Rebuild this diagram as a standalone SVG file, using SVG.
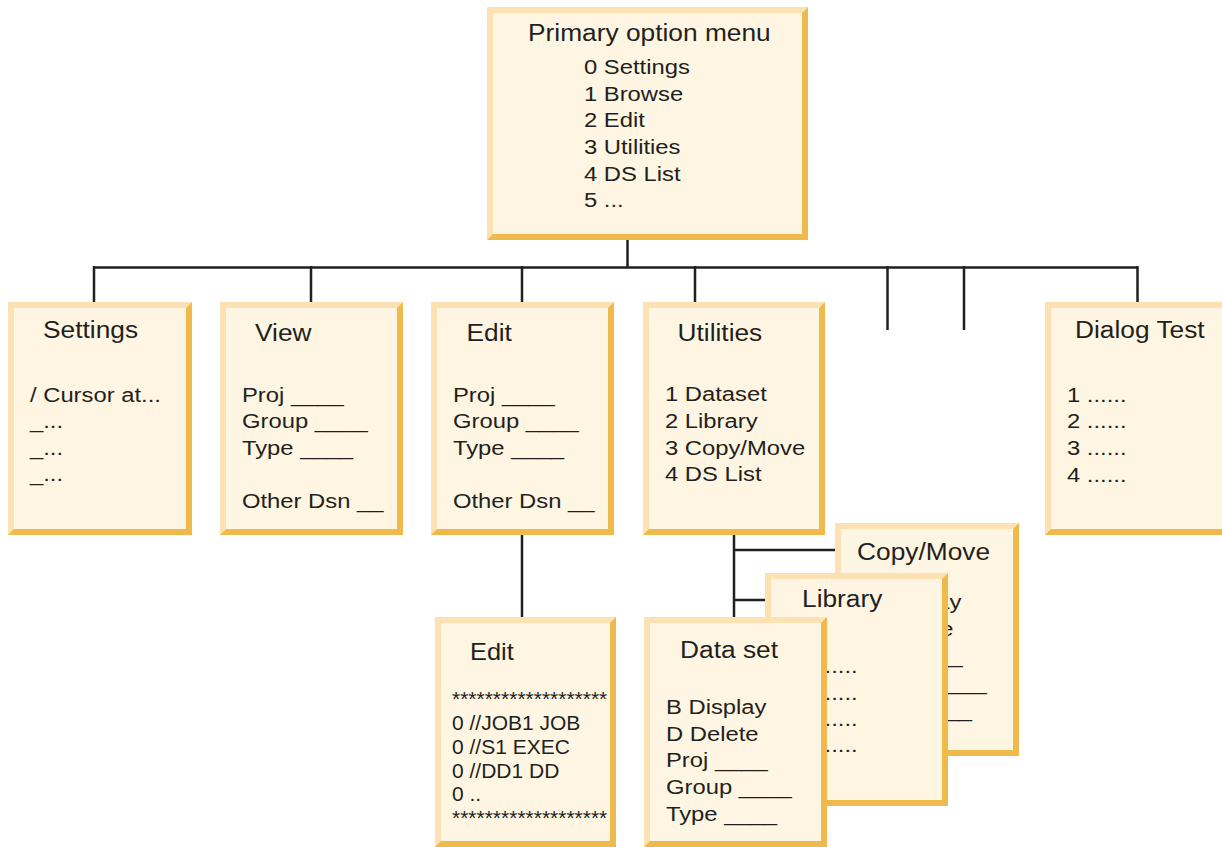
<svg xmlns="http://www.w3.org/2000/svg" width="1222" height="847" viewBox="0 0 1222 847">
<style>
.dk{fill:#EFB94B}
.lt{fill:#FCE2B3}
.fl{fill:#FEF6E2}
text{font-family:"Liberation Sans",Arial,Helvetica,sans-serif;fill:#231F20}
.t{font-size:23.5px}
.b{font-size:20px}
.s{font-size:21px}
.cn{stroke:#231F20;stroke-width:2.5;fill:none}
</style>
<rect width="1222" height="847" fill="#FFFFFF"/>
<g id="connectors" class="cn">
<path d="M627.5,240V267.5M94,267.5H1137.5M94,266V302M311,266V302M522,266V302M695,266V302M887.5,266V330M964,266V330M1137.5,266V302"/>
<path d="M522,535V617"/>
<path d="M734,535V617M734,550H835M734,600H765"/>
</g>
<g id="primary">
<rect class="dk" x="487" y="7" width="321" height="233"/>
<polygon class="lt" points="487,7 808,7 802,13 493,13 493,234 487,240"/>
<rect class="fl" x="493" y="13" width="309" height="221"/>
<g transform="translate(528 0) scale(1.12 1)"><text class="t" x="0" y="41">Primary option menu</text></g>
<g transform="translate(584 0) scale(1.19 1)"><text class="b"><tspan x="0" y="74">0 Settings</tspan><tspan x="0" y="100.7">1 Browse</tspan><tspan x="0" y="127.3">2 Edit</tspan><tspan x="0" y="154">3 Utilities</tspan><tspan x="0" y="180.7">4 DS List</tspan><tspan x="0" y="207.3">5 ...</tspan></text></g>
</g>
<g id="settings">
<rect class="dk" x="8" y="302" width="184" height="233"/>
<polygon class="lt" points="8,302 192,302 186,308 14,308 14,529 8,535"/>
<rect class="fl" x="14" y="308" width="172" height="221"/>
<g transform="translate(43 0) scale(1.12 1)"><text class="t" x="0" y="338.5">Settings</text></g>
<g transform="translate(30 0) scale(1.19 1)"><text class="b"><tspan x="0" y="402">/ Cursor at...</tspan><tspan x="0" y="428.5">_...</tspan><tspan x="0" y="455">_...</tspan><tspan x="0" y="481.5">_...</tspan></text></g>
</g>
<g id="view">
<rect class="dk" x="220" y="302" width="183" height="233"/>
<polygon class="lt" points="220,302 403,302 397,308 226,308 226,529 220,535"/>
<rect class="fl" x="226" y="308" width="171" height="221"/>
<g transform="translate(255 0) scale(1.12 1)"><text class="t" x="0" y="341">View</text></g>
<g transform="translate(242 0) scale(1.19 1)"><text class="b"><tspan x="0" y="402">Proj ____</tspan><tspan x="0" y="428.5">Group ____</tspan><tspan x="0" y="455">Type ____</tspan><tspan x="0" y="508.5">Other Dsn __</tspan></text></g>
</g>
<g id="edit">
<rect class="dk" x="431" y="302" width="183" height="233"/>
<polygon class="lt" points="431,302 614,302 608,308 437,308 437,529 431,535"/>
<rect class="fl" x="437" y="308" width="171" height="221"/>
<g transform="translate(466.5 0) scale(1.12 1)"><text class="t" x="0" y="341">Edit</text></g>
<g transform="translate(453 0) scale(1.19 1)"><text class="b"><tspan x="0" y="402">Proj ____</tspan><tspan x="0" y="428.5">Group ____</tspan><tspan x="0" y="455">Type ____</tspan><tspan x="0" y="508.5">Other Dsn __</tspan></text></g>
</g>
<g id="utilities">
<rect class="dk" x="643" y="302" width="182" height="233"/>
<polygon class="lt" points="643,302 825,302 819,308 649,308 649,529 643,535"/>
<rect class="fl" x="649" y="308" width="170" height="221"/>
<g transform="translate(677.5 0) scale(1.12 1)"><text class="t" x="0" y="341">Utilities</text></g>
<g transform="translate(665 0) scale(1.19 1)"><text class="b"><tspan x="0" y="401">1 Dataset</tspan><tspan x="0" y="428">2 Library</tspan><tspan x="0" y="455">3 Copy/Move</tspan><tspan x="0" y="481.5">4 DS List</tspan></text></g>
</g>
<g id="dialog-test">
<rect class="dk" x="1045" y="302" width="184" height="233"/>
<polygon class="lt" points="1045,302 1229,302 1223,308 1051,308 1051,529 1045,535"/>
<rect class="fl" x="1051" y="308" width="172" height="221"/>
<g transform="translate(1075 0) scale(1.12 1)"><text class="t" x="0" y="338.5">Dialog Test</text></g>
<g transform="translate(1067 0) scale(1.19 1)"><text class="b"><tspan x="0" y="402">1 ......</tspan><tspan x="0" y="428.5">2 ......</tspan><tspan x="0" y="455">3 ......</tspan><tspan x="0" y="482">4 ......</tspan></text></g>
</g>
<g id="edit-job">
<rect class="dk" x="435" y="617" width="181" height="230"/>
<polygon class="lt" points="435,617 616,617 610,623 441,623 441,841 435,847"/>
<rect class="fl" x="441" y="623" width="169" height="218"/>
<g transform="translate(470 0) scale(1.08 1)"><text class="t" x="0" y="660">Edit</text></g>
<text class="s"><tspan x="452" y="706">*******************</tspan><tspan x="452" y="730">0 //JOB1 JOB</tspan><tspan x="452" y="754">0 //S1 EXEC</tspan><tspan x="452" y="777.5">0 //DD1 DD</tspan><tspan x="452" y="801">0 ..</tspan><tspan x="452" y="824.5">*******************</tspan></text>
</g>
<g id="copy-move">
<rect class="dk" x="835" y="523" width="184" height="233"/>
<polygon class="lt" points="835,523 1019,523 1013,529 841,529 841,750 835,756"/>
<rect class="fl" x="841" y="529" width="172" height="221"/>
<g transform="translate(857 0) scale(1.12 1)"><text class="t" x="0" y="560">Copy/Move</text></g>
<g transform="translate(861 0) scale(1.19 1)"><text class="b"><tspan x="0" y="609.5">B Display</tspan><tspan x="0" y="636">D Delete</tspan><tspan x="0" y="663">Proj ____</tspan><tspan x="0" y="690">Group ____</tspan><tspan x="0" y="717">Type ____</tspan></text></g>
</g>
<g id="library">
<rect class="dk" x="765" y="573" width="183" height="233"/>
<polygon class="lt" points="765,573 948,573 942,579 771,579 771,800 765,806"/>
<rect class="fl" x="771" y="579" width="171" height="221"/>
<g transform="translate(802 0) scale(1.12 1)"><text class="t" x="0" y="607.5">Library</text></g>
<g transform="translate(818 0) scale(1.19 1)"><text class="b"><tspan x="0" y="673.5">......</tspan><tspan x="0" y="700">......</tspan><tspan x="0" y="726">......</tspan><tspan x="0" y="752">......</tspan></text></g>
</g>
<g id="data-set">
<rect class="dk" x="644" y="617" width="183" height="230"/>
<polygon class="lt" points="644,617 827,617 821,623 650,623 650,841 644,847"/>
<rect class="fl" x="650" y="623" width="171" height="218"/>
<g transform="translate(680 0) scale(1.12 1)"><text class="t" x="0" y="658.5">Data set</text></g>
<g transform="translate(666 0) scale(1.19 1)"><text class="b"><tspan x="0" y="714.5">B Display</tspan><tspan x="0" y="741">D Delete</tspan><tspan x="0" y="767.5">Proj ____</tspan><tspan x="0" y="794">Group ____</tspan><tspan x="0" y="821">Type ____</tspan></text></g>
</g>
</svg>
